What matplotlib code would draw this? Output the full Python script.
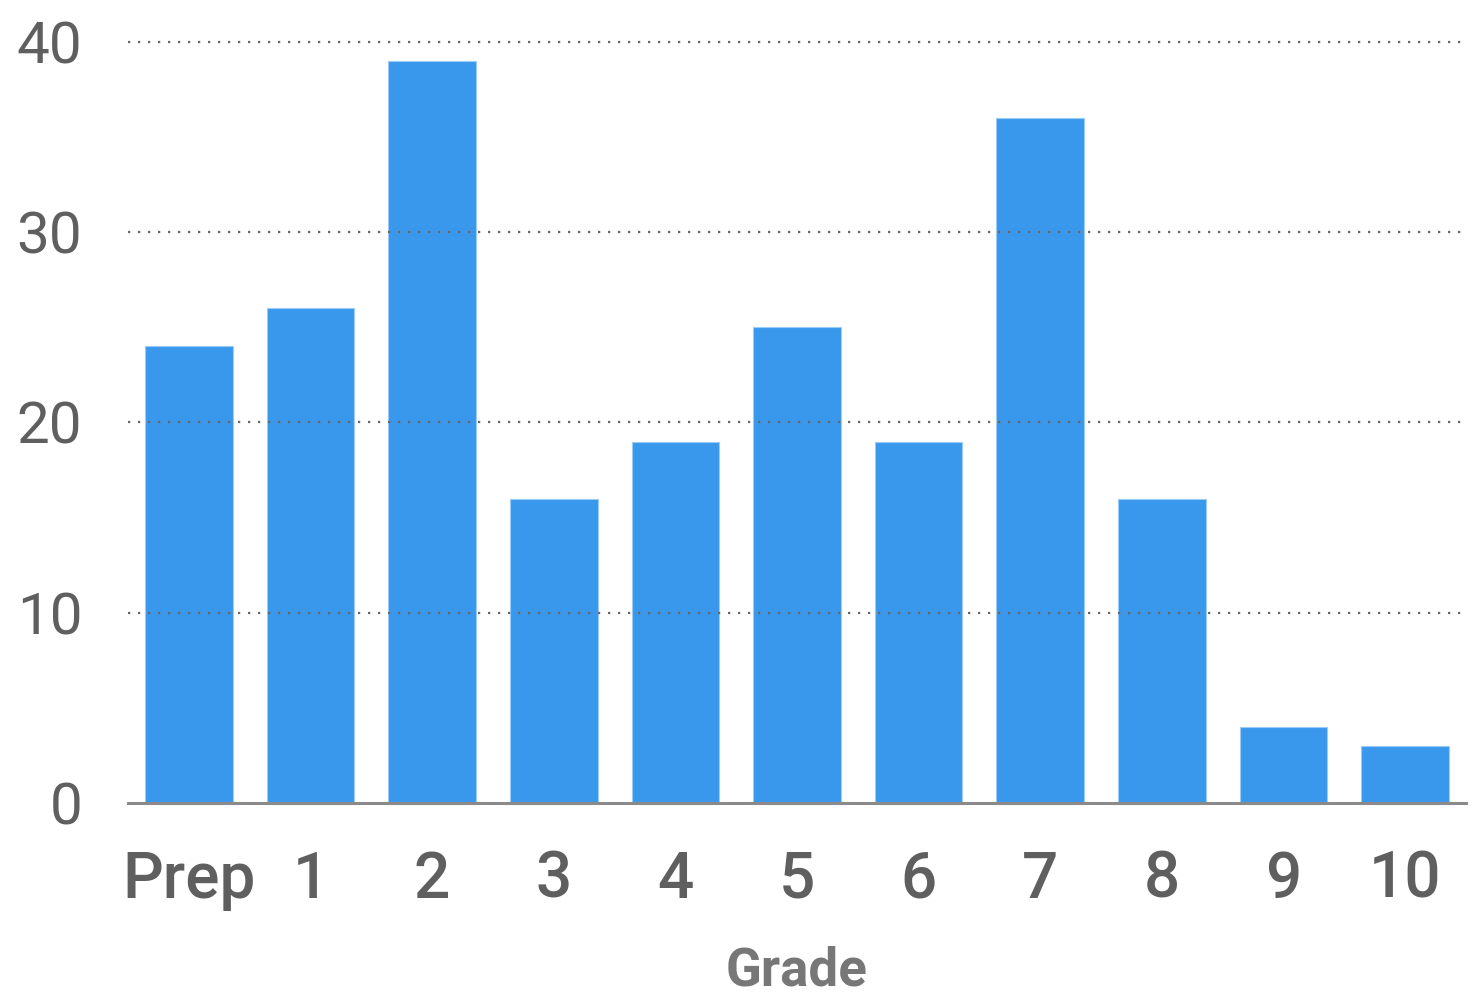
import numpy as np
import matplotlib.pyplot as plt

grades = ["Prep", "1", "2", "3", "4", "5", "6", "7", "8", "9", "10"]
counts = [24, 26, 39, 16, 19, 25, 19, 36, 16, 4, 3]
yticks = [0, 10, 20, 30, 40]

bar_color = "#3a98ec"
text_color = "#5f5f5f"

plt.rcParams["font.family"] = ["Roboto", "DejaVu Sans"]

fig = plt.figure(figsize=(14.76, 9.98), dpi=100)
ax = fig.add_axes([128 / 1476, 195 / 998, 1338 / 1476, 761 / 998])

x = np.arange(len(grades))
ax.bar(x, counts, width=0.72, color=bar_color, edgecolor="#9ccbf5", linewidth=0.8, zorder=2)

ax.set_xlim(-0.5, len(grades) - 0.5)
ax.set_ylim(0, 40)

# dotted gridlines over the bars
for t in yticks[1:]:
    ax.axhline(t, color="#666666", linestyle=(0, (1, 3.5)), linewidth=1.6, zorder=3, clip_on=False)
ax.axhline(0, color="#8a8a8a", linewidth=2.2, zorder=4, clip_on=False)

for s in ax.spines.values():
    s.set_visible(False)

ax.set_yticks(yticks)
ax.set_yticklabels([str(t) for t in yticks], fontsize=42, color=text_color)
ax.set_xticks(x)
ax.set_xticklabels(grades, fontsize=46, color=text_color, fontweight="medium")
ax.tick_params(axis="y", length=0, pad=33)
ax.tick_params(axis="x", length=0, pad=33)

ax.set_xlabel("Grade", fontsize=38, fontweight="bold", color="#777777", labelpad=25)

fig.savefig("out.png", dpi=100)
